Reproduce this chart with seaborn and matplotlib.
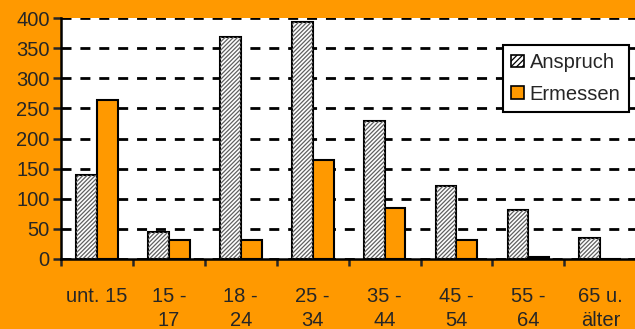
import pandas as pd
import matplotlib
matplotlib.use("Agg")
import matplotlib.pyplot as plt
import seaborn as sns
from matplotlib.patches import Rectangle, Patch

# data
groups = ["unt. 15", "15 -\n17", "18 -\n24", "25 -\n34", "35 -\n44", "45 -\n54", "55 -\n64", "65 u.\nälter"]
anspruch = [139, 44, 369, 393, 229, 121, 81, 35]
ermessen = [264, 32, 31, 164, 85, 31, 3, 0]
series = ["Anspruch", "Ermessen"]

df = pd.DataFrame({
    "Gruppe": groups * 2,
    "Wert": anspruch + ermessen,
    "Art": [series[0]] * len(groups) + [series[1]] * len(groups),
})

orange = "#FF9900"
sns.set_style("white")
plt.rcParams["font.family"] = ["Liberation Sans", "DejaVu Sans"]
plt.rcParams["hatch.linewidth"] = 0.9

fig = plt.figure(figsize=(6.35, 3.29), dpi=100, facecolor=orange)
ax = fig.add_axes([0.096, 0.213, 0.906, 0.732])
ax.set_facecolor("white")

sns.barplot(data=df, x="Gruppe", y="Wert", hue="Art", order=groups, hue_order=series,
            palette=["white", orange], width=0.58, edgecolor="black", linewidth=1.5,
            saturation=1, ax=ax, legend=False)

# grey hatch on the Anspruch bars, outline stays black
for p in ax.patches[:len(groups)]:
    ax.add_patch(Rectangle(p.get_xy(), p.get_width(), p.get_height(), facecolor="none",
                           edgecolor="#606060", hatch="////////", lw=0, zorder=p.get_zorder()))

ax.set_ylim(0, 400)
ax.set_xlim(-0.5, len(groups) - 0.5)
ax.set_yticks(range(0, 401, 50))
ax.yaxis.grid(True, color="black", linestyle=(0, (3.6, 3.2)), linewidth=2)
ax.set_axisbelow(True)

for s in ["top", "right"]:
    ax.spines[s].set_visible(False)
for s in ["left", "bottom"]:
    ax.spines[s].set_color("black")
    ax.spines[s].set_linewidth(1.8)

ax.set_xlabel("")
ax.set_ylabel("")
ax.tick_params(axis="y", direction="out", length=6, width=1.8, pad=2, labelsize=14.5, left=True)
ax.tick_params(axis="x", which="major", length=0, pad=20, labelsize=14.5)
ax.set_xticks([i - 0.5 for i in range(len(groups) + 1)], minor=True)
ax.tick_params(axis="x", which="minor", direction="out", length=5, width=1.8, bottom=True)
for t in ax.get_xticklabels():
    t.set_verticalalignment("top")
    t.set_linespacing(1.38)

handles = [Patch(facecolor="white", edgecolor="black", hatch="//////", lw=1.2),
           Patch(facecolor=orange, edgecolor="black", lw=1.2)]
leg = ax.legend(handles, series, loc="upper right", bbox_to_anchor=(0.987, 0.89),
                fontsize=14.5, frameon=True, fancybox=False, framealpha=1,
                handlelength=0.6, handleheight=0.6, handletextpad=0.3,
                borderpad=0.42, labelspacing=0.62, borderaxespad=0)
leg.get_frame().set_edgecolor("black")
leg.get_frame().set_linewidth(1.5)

fig.savefig("out.png", dpi=100, facecolor=orange)
